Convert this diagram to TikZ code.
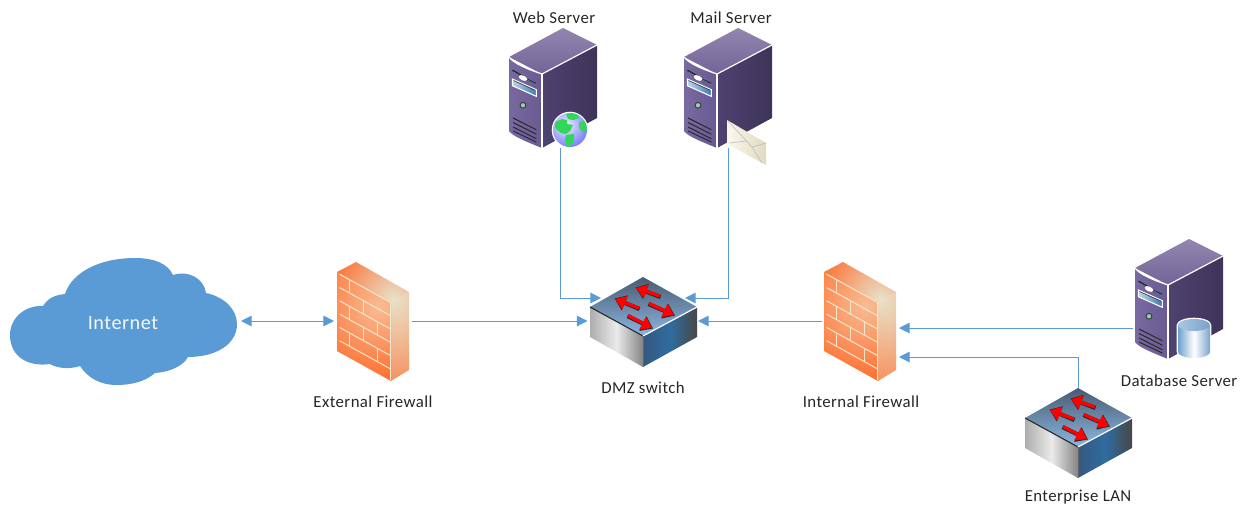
\documentclass[tikz,border=0pt]{standalone}
\usepackage{fontspec}
\setmainfont[LetterSpace=2.5]{Carlito}
\usetikzlibrary{arrows.meta}
\definecolor{link}{HTML}{5B9BD5}
\definecolor{brick}{HTML}{FF6422}
\definecolor{brickhi}{HTML}{F8BC94}
\definecolor{cream}{HTML}{E8E0C8}
\definecolor{brickline}{HTML}{F2E6CC}
\definecolor{towtopa}{HTML}{9286B0}
\definecolor{towtopb}{HTML}{726598}
\definecolor{towsidea}{HTML}{4E4270}
\definecolor{towsideb}{HTML}{3E3458}
\definecolor{towfronta}{HTML}{786AA0}
\definecolor{towfrontb}{HTML}{685A92}
\definecolor{slotblue}{HTML}{5A82AA}
\definecolor{baya}{HTML}{BED7EB}
\definecolor{bayb}{HTML}{3C78B4}
\definecolor{ledring}{HTML}{3A3A4A}
\definecolor{ledfill}{HTML}{96CDAA}
\definecolor{swra}{HTML}{35597F}
\definecolor{swrb}{HTML}{306CA0}
\definecolor{swrc}{HTML}{474747}
\definecolor{swta}{HTML}{485C73}
\definecolor{swtb}{HTML}{8CB6E1}
\definecolor{globea}{HTML}{EEF0FC}
\definecolor{globeb}{HTML}{4650F5}
\definecolor{land}{HTML}{32D75A}
\definecolor{enva}{HTML}{FAF8EE}
\definecolor{envb}{HTML}{E2DABE}
\definecolor{cyla}{HTML}{6EA0CD}
\definecolor{cylb}{HTML}{78A5CD}
\definecolor{cyltopa}{HTML}{AAC8E4}
\definecolor{cyltopb}{HTML}{78A0C8}
\tikzset{
  iconbox/.style 2 args={inner sep=0pt,outer sep=0pt,minimum width=#1*0.75pt,minimum height=#2*0.75pt},
  lbl/.style={inner sep=0pt,font=\fontsize{12.6pt}{15pt}\selectfont,text=black!85},
  conn/.style={draw=link,line width=0.75pt},
  tip/.style={-{Triangle[length=8pt,width=8pt]}},
  tips/.style={{Triangle[length=8pt,width=8pt]}-{Triangle[length=8pt,width=8pt]}},
  rim/.style={draw=white,line width=0.9pt,line join=round},
  vent/.style={draw=black!85,line width=0.7pt},
  redarrow/.style={draw=red,line width=2.5pt,-{Triangle[length=8pt,width=10.5pt]}},
  shadowarrow/.style={draw=black!85,line width=3.1pt,-{Triangle[length=8.4pt,width=11.6pt]}},
  brk/.style={draw=brickline,line width=0.75pt}
}
% server tower, origin = top front corner
\newcommand\towericon[2]{%
\begin{scope}[shift={(#1,#2)}]
  \shade[top color=towtopa,bottom color=towtopb]
    (0,0) -- (-33,-17) -- (21,-46) -- (55,-29) -- cycle;
  \shade[left color=towsidea,right color=towsideb]
    (0,0) -- (55,-29) -- (55,44) -- (0,74) -- cycle;
  \shade[left color=towfronta,right color=towfrontb]
    (0,0) .. controls (-12,-4) and (-28,-10) .. (-33,-17) -- (-33,57) .. controls (-30,62) and (-15,68) .. (0,74) -- cycle;
  \draw[rim] (-33,-17) .. controls (-28,-10) and (-12,-4) .. (0,0) -- (55,-29);
  \draw[rim] (0,0) -- (0,74);
  % slot and button
  \draw[draw=black!85,line width=1.2pt] (-29.5,-3.7) -- (-19,2.5);
  \draw[draw=black!85,line width=1.2pt] (-15,5.5) -- (-6.3,9.5);
  \draw[draw=slotblue,line width=.5pt] (-29,-2.2) -- (-6,10.6);
  \fill[white,rotate around={-25:(-19,4)}] (-19,4) ellipse (4.5 and 2.4);
  % bay
  \shade[left color=baya,right color=bayb,draw=white,line width=.8pt]
    (-29.7,5) -- (-5.7,15.7) -- (-5.7,22.3) -- (-29.7,11.7) -- cycle;
  \draw[black!75,line width=.5pt] (-28.5,6.5) -- (-7,16.2);
  % LED
  \fill[ledring] (-19,31.3) circle (3.4);
  \fill[ledfill] (-19,31.3) circle (2.2);
  % vents
  \draw[vent] (-29,44) -- (-5.7,55.7);
  \draw[vent] (-29,48.5) -- (-5.7,60.2);
  \draw[vent] (-29,53) -- (-5.7,64.7);
  \draw[vent] (-29,57) -- (-5.7,68);
\end{scope}}
% switch, origin = rear apex of top face
\newcommand\switchicon[2]{%
\begin{scope}[shift={(#1,#2)}]
  \shade[left color=black!32,right color=black!48,middle color=black!8]
    (-53,30) -- (0,59) -- (0,90) -- (-53,60) -- cycle;
  \shade[left color=swra,right color=swrc,middle color=swrb]
    (0,59) -- (54,30) -- (54,60) -- (0,90) -- cycle;
  \shade[top color=swta,bottom color=swtb]
    (0,0) -- (-53,30) -- (0,59) -- (54,30) -- cycle;
  \draw[black!85,line width=.8pt] (-53,30) -- (0,59);
  \draw[white,line width=.9pt] (0,59) -- (54,30);
  \draw[black!60,line width=.5pt] (0,59) -- (0,90);
  \draw[shadowarrow] (17.5,20) -- (-7.5,10.5);
  \draw[shadowarrow] (-3.5,32) -- (-28.5,21.5);
  \draw[shadowarrow] (5.5,27) -- (32,38.5);
  \draw[shadowarrow] (-15.5,39) -- (10,51.5);
  \draw[redarrow] (17,19) -- (-7,11);
  \draw[redarrow] (-4,31) -- (-28,22);
  \draw[redarrow] (6,26.5) -- (31,38);
  \draw[redarrow] (-15,38.5) -- (9,51);
\end{scope}}
% firewall, origin = top left of front face
\newcommand\wallicon[2]{%
\begin{scope}[shift={(#1,#2)}]
  \begin{scope}
    \clip (0,0) -- (19,-10) -- (72,20) -- (54,30) -- cycle;
    \shade[inner color=cream,outer color=brick] (56,26) circle (72);
  \end{scope}
  \begin{scope}
    \clip (54,30) -- (72,20) -- (72,98) -- (54,109) -- cycle;
    \shade[inner color=cream,outer color=brick] (56,28) circle (130);
  \end{scope}
  \begin{scope}
    \clip (0,0) -- (54,30) -- (54,109) -- (0,79) -- cycle;
    \shade[inner color=brickhi,outer color=brick] (42,34) circle (84);
  \end{scope}
  \foreach \k in {0,...,5}{
    \draw[brk] (2.7,{2.3+13.3*\k}) -- (53,{2.3+13.3*\k+27.8});
  }
  \draw[brk] (53.5,30) -- (53.5,108);
  \foreach \k/\vx/\off in {0/12.7/5.5,1/26/12.9,2/12.7/5.5,2/40/20.6,3/26/12.9,4/12.7/5.5,4/40/20.6}{
    \draw[brk] (\vx,{2.3+13.3*\k+\off}) -- (\vx,{2.3+13.3*(\k+1)+\off});
  }
\end{scope}}
\begin{document}
\begin{tikzpicture}[x=0.75pt,y=-0.75pt]
\useasboundingbox (0,0) rectangle (1244,508);
% cloud
\fill[link] (43,306) .. controls (48,298) and (55,295) .. (65,294)
  .. controls (72,272) and (100,258) .. (135,258)
  .. controls (155,258) and (168,264) .. (173,275)
  .. controls (188,270) and (204,278) .. (206,293)
  .. controls (225,297) and (237,310) .. (237,324)
  .. controls (237,345) and (215,357) .. (188,357)
  .. controls (183,366) and (170,372) .. (155,373)
  .. controls (145,382) and (130,385) .. (117,385)
  .. controls (100,385) and (88,378) .. (80,366)
  .. controls (72,369) and (58,369) .. (50,364)
  .. controls (30,367) and (10,358) .. (10,335)
  .. controls (10,318) and (25,305) .. (43,306) -- cycle;
\node[iconbox={228}{126}] (cloud) at (124,321) {};
\node[inner sep=0pt,text=white!92!link,font=\fontsize{15.2pt}{18pt}\selectfont] (internetlbl) at (123,323) {Internet};

% firewalls
\wallicon{337}{272}
\wallicon{824}{272}
\node[iconbox={72}{118}] (extfw) at (373,321) {};
\node[iconbox={72}{118}] (intfw) at (860,321) {};

% switches
\switchicon{643}{277}
\switchicon{1078}{388}
\node[iconbox={107}{90}] (sw) at (643.5,321) {};
\node[iconbox={107}{90}] (lan) at (1078.5,433) {};

% servers
\towericon{542}{74}
\towericon{717}{74}
\towericon{1168}{285}
\node[iconbox={88}{120}] (web) at (553,88) {};
\node[iconbox={88}{120}] (mail) at (728,88) {};
\node[iconbox={88}{118}] (db) at (1178,299) {};

% globe
\begin{scope}[shift={(570,130)}]
  \fill[white] (0,0) circle (18.3);
  \begin{scope}
    \clip (0,0) circle (17);
    \shade[inner color=globea,outer color=globeb] (-4,-5) circle (32);
    \fill[land] (-15,-8) -- (-8,-11) -- (-3,-10) -- (-3,-6) -- (3,-5) -- (0,1) -- (-4,4) -- (-9,3) -- (-15,-2) -- cycle;
    \fill[land] (-4,-16) -- (6,-18) -- (9,-12) -- (3,-10) -- (-2,-11) -- cycle;
    \fill[land] (9,-8) -- (16,-9) -- (18,-1) -- (12,2) -- (9,-3) -- cycle;
    \fill[land] (-4,5) -- (4,4) -- (4,10) -- (1,16) -- (-3,17) -- (-5,9) -- cycle;
  \end{scope}
\end{scope}

% envelope
\shade[left color=enva,right color=envb]
  (727,120) -- (766,143) -- (766,165) -- (727,144) -- cycle;
\draw[black!25,line width=.5pt] (727,120) -- (752,147) -- (766,143);
\draw[black!25,line width=.5pt] (729,143) -- (747,141);
\draw[black!25,line width=.5pt] (752,147) -- (762,163);

% database cylinder
\begin{scope}[shift={(1194,325)}]
  \fill[white] (-17.3,0) arc[start angle=180,end angle=360,x radius=17.3,y radius=7.3] -- (17.3,27) arc[start angle=0,end angle=180,x radius=17.3,y radius=7.3] -- cycle;
  \shade[left color=cyla,right color=cylb,middle color=white]
    (-16,0) -- (16,0) -- (16,27) arc[start angle=0,end angle=180,x radius=16,y radius=6] -- cycle;
  \shade[left color=cyltopa,right color=cyltopb] (0,0) ellipse (16 and 6);
\end{scope}

% labels
\node[lbl] (l1) at (554,17.5) {Web Server};
\node[lbl] (l2) at (731,17.5) {Mail Server};
\node[lbl] (l3) at (373,402) {External Firewall};
\node[lbl] (l4) at (643,387.5) {DMZ switch};
\node[lbl] (l5) at (861,402) {Internal Firewall};
\node[lbl] (l6) at (1179,380.5) {Database Server};
\node[lbl] (l7) at (1078,497.5) {Enterprise LAN};

% connectors
\draw[conn,tips] ([shift={(3,0)}]cloud.east) -- ([shift={(-3,0)}]extfw.west);
\draw[conn,tip] ([shift={(3,0)}]extfw.east) -- ([shift={(-2.5,0)}]sw.west);
\draw[conn,tip] ([shift={(-2,0)}]intfw.west) -- ([shift={(1,0)}]sw.east);
\draw[conn,tip] ([shift={(7,0)}]web.south) |- ([shift={(11,-23)}]sw.west);
\draw[conn,tip] (mail.south) |- ([shift={(-12,-23)}]sw.east);
\draw[conn,tip] ([shift={(-1,29)}]db.west) -- ([shift={(3,7)}]intfw.east);
\draw[conn,tip] (lan.north) |- ([shift={(3,36)}]intfw.east);
\end{tikzpicture}
\end{document}
